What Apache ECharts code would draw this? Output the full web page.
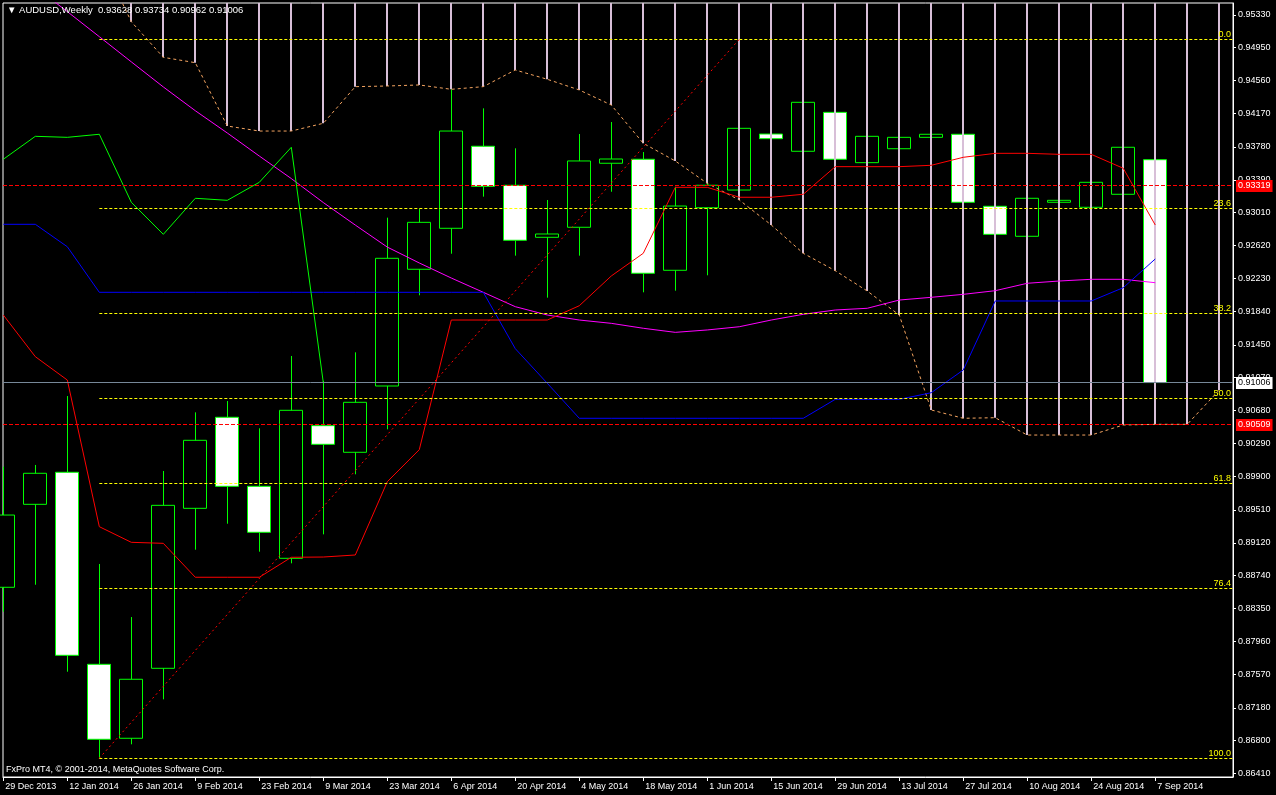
<!DOCTYPE html>
<html><head><meta charset="utf-8">
<script src="https://cdn.jsdelivr.net/npm/echarts@6/dist/echarts.min.js"></script>
<style>html,body{margin:0;padding:0;background:#000;}#c{width:1276px;height:795px;}</style>
</head><body><div id="c"></div>
<script>
// ---- data ----
const symbolName = 'AUDUSD';
const timeframe = 'Weekly';
const weeks = ['29 Dec 2013','5 Jan 2014','12 Jan 2014','19 Jan 2014','26 Jan 2014','2 Feb 2014','9 Feb 2014','16 Feb 2014','23 Feb 2014','2 Mar 2014','9 Mar 2014','16 Mar 2014','23 Mar 2014','30 Mar 2014','6 Apr 2014','13 Apr 2014','20 Apr 2014','27 Apr 2014','4 May 2014','11 May 2014','18 May 2014','25 May 2014','1 Jun 2014','8 Jun 2014','15 Jun 2014','22 Jun 2014','29 Jun 2014','6 Jul 2014','13 Jul 2014','20 Jul 2014','27 Jul 2014','3 Aug 2014','10 Aug 2014','17 Aug 2014','24 Aug 2014','31 Aug 2014','7 Sep 2014'];
const opens  = [0.88598,0.89574,0.89951,0.87692,0.86822,0.87645,0.89527,0.90598,0.89786,0.88939,0.90499,0.90186,0.90966,0.92339,0.92821,0.93786,0.93327,0.92715,0.92833,0.93586,0.93633,0.92327,0.93063,0.93271,0.93930,0.93727,0.94185,0.93593,0.93757,0.93891,0.93927,0.93080,0.92727,0.93127,0.93068,0.93221,0.93628];
const highs  = [0.90017,0.90037,0.90848,0.88872,0.88248,0.89966,0.90656,0.90789,0.90468,0.91319,0.91025,0.91362,0.92946,0.93048,0.94456,0.94232,0.93762,0.93154,0.93930,0.94071,0.93718,0.93310,0.93400,0.94118,0.94154,0.94412,0.94236,0.94001,0.94036,0.94071,0.94036,0.93271,0.93330,0.93271,0.93507,0.93918,0.93734];
const lows   = [0.88311,0.88628,0.87605,0.86593,0.86751,0.87280,0.89040,0.89346,0.89017,0.88880,0.89221,0.89927,0.90456,0.92033,0.92522,0.93193,0.92499,0.92005,0.92499,0.93251,0.92068,0.92087,0.92268,0.93189,0.93271,0.93624,0.93330,0.93389,0.93566,0.93742,0.92977,0.92448,0.92566,0.92977,0.92977,0.93189,0.90962];
const closes = [0.89448,0.89939,0.87798,0.86810,0.87516,0.89562,0.90327,0.89786,0.89245,0.90680,0.90280,0.90774,0.92468,0.92891,0.93965,0.93315,0.92680,0.92754,0.93613,0.93636,0.92292,0.93083,0.93327,0.93997,0.93875,0.94303,0.93633,0.93903,0.93891,0.93927,0.93127,0.92750,0.93174,0.93150,0.93362,0.93774,0.91006];
const tenkan = [0.91801,0.91311,0.91036,0.89311,0.89127,0.89115,0.88716,0.88716,0.88716,0.88951,0.88954,0.88978,0.89840,0.90217,0.91742,0.91742,0.91742,0.91742,0.91910,0.92260,0.92527,0.93303,0.93303,0.93186,0.93186,0.93221,0.93546,0.93546,0.93546,0.93562,0.93656,0.93703,0.93703,0.93691,0.93691,0.93527,0.92860];
const kijun  = [0.92868,0.92868,0.92604,0.92068,0.92068,0.92068,0.92068,0.92068,0.92068,0.92068,0.92068,0.92068,0.92068,0.92068,0.92068,0.92068,0.91405,0.90998,0.90586,0.90586,0.90586,0.90586,0.90586,0.90586,0.90586,0.90586,0.90809,0.90809,0.90809,0.90887,0.91154,0.91966,0.91966,0.91966,0.91966,0.92122,0.92460];
const spanA  = [null,null,null,0.96036,0.95251,0.94832,0.94769,0.94024,0.93965,0.93965,0.94056,0.94487,0.94495,0.94507,0.94456,0.94487,0.94683,0.94574,0.94448,0.94271,0.93821,0.93613,0.93350,0.93154,0.92860,0.92527,0.92322,0.92083,0.91801,0.90684,0.90586,0.90593,0.90389,0.90389,0.90389,0.90507,0.90515,0.90515,0.90919];
const spanB  = [0.9760,0.9760,0.9760,0.9760,0.9760,0.9718,0.9718,0.9718,0.9718,0.9700,0.9700,0.9700,0.9700,0.9700,0.9700,0.9685,0.9685,0.9685,0.9685,0.9685,0.9685,0.9685,0.9685,0.9685,0.9685,0.9685,0.9664,0.9664,0.9664,0.9640,0.9640,0.9640,0.9640,0.9620,0.9620,0.9620,0.9620,0.9620,0.9620];
const movingAvg = [0.95942,0.95659,0.95370,0.95075,0.94779,0.94484,0.94204,0.93942,0.93671,0.93406,0.93124,0.92859,0.92600,0.92413,0.92236,0.92068,0.91899,0.91801,0.91742,0.91703,0.91645,0.91597,0.91625,0.91663,0.91742,0.91809,0.91860,0.91880,0.91977,0.92009,0.92044,0.92087,0.92174,0.92201,0.92221,0.92221,0.92181];
const chikouShift = 26;
const priceTicks = ['0.95330','0.94950','0.94560','0.94170','0.93780','0.93390','0.93010','0.92620','0.92230','0.91840','0.91450','0.91070','0.90680','0.90290','0.89900','0.89510','0.89120','0.88740','0.88350','0.87960','0.87570','0.87180','0.86800','0.86410'];
const fibLow = 0.86587, fibHigh = 0.95044;
const fibLowIdx = 3, fibHighIdx = 23;
const fibLevels = [0, 23.6, 38.2, 50.0, 61.8, 76.4, 100.0];
const redLevels = [0.93319, 0.90509];
const footerText = 'FxPro MT4, \u00A9 2001-2014, MetaQuotes Software Corp.';

// ---- layout constants ----
const xMin = -0.01, xMax = 38.43;
const yMin = 0.863664, yMax = 0.954712;
const FONT = 'Liberation Sans';
const CFONT = '9px "Liberation Sans", sans-serif';

const last = weeks.length - 1;
const bid = closes[last];
const fmt = v => v.toFixed(5);
const titleText = '\u25BC ' + symbolName + ',' + timeframe + '  ' + [opens[last], highs[last], lows[last], closes[last]].map(fmt).join(' ');

const candleData = weeks.map((w, i) => [i, opens[i], closes[i], lows[i], highs[i]]);
const toXY = arr => arr.map((v, i) => v == null ? null : [i, v]).filter(Boolean);
const chikou = closes.map((c, i) => i >= chikouShift ? [i - chikouShift, c] : null).filter(Boolean);
const cloudData = spanA.map((a, i) => a == null ? null : [i, a, spanB[i]]).filter(Boolean);
const tickVals = priceTicks.map(parseFloat);
const dateTickVals = weeks.map((w, i) => i).filter(i => i % 2 === 0);
const fibData = fibLevels.map(p => [fibLowIdx, fibHigh - (fibHigh - fibLow) * p / 100, p]);

// horizontal line drawn through the axes (snapped to the pixel grid for crispness)
function hLineSeries(data, opt) {
  return {
    type: 'custom', data: data, z: 6, silent: true, clip: false,
    renderItem: (params, api) => {
      const cs = params.coordSys;
      const p = api.coord([api.value(0), api.value(1)]);
      const y = Math.floor(p[1]) + 0.5;
      const x1 = Math.max(p[0], cs.x), x2 = cs.x + cs.width;
      const children = [{type: 'line', shape: {x1: x1, y1: y, x2: x2, y2: y},
        style: {stroke: opt.color, lineWidth: 1, lineDash: opt.dash || null}}];
      if (opt.fib) {
        children.push({type: 'text', x: x2 - 2, y: y - 0.5,
          style: {text: api.value(2).toFixed(1), fill: '#ffff00', font: CFONT, align: 'right', verticalAlign: 'bottom'}});
      }
      if (opt.boxBg) {
        children.push({type: 'text', x: x2 + 3, y: y + 0.5,
          style: {text: fmt(api.value(1)), fill: opt.boxText, backgroundColor: opt.boxBg, padding: [2, 2, 1, 2],
                  font: CFONT, align: 'left', verticalAlign: 'middle'}});
      }
      return {type: 'group', children: children};
    }
  };
}

const lineSeries = (data, color, extra) => Object.assign({
  type: 'line', data: data, showSymbol: false, symbol: 'none', z: 4,
  lineStyle: {color: color, width: 1}, clip: true, silent: true
}, extra || {});

const chart = echarts.init(document.getElementById('c'));
chart.setOption({
  animation: false,
  backgroundColor: '#000',
  title: [
    {text: titleText, left: 7, top: 5, padding: 0, textStyle: {color: '#fff', fontSize: 9.5, fontWeight: 'normal', fontFamily: FONT}},
    {text: footerText, left: 6, top: 765, padding: 0, textStyle: {color: '#fff', fontSize: 9, fontWeight: 'normal', fontFamily: FONT}}
  ],
  grid: {left: 3, top: 3, right: 43, bottom: 18, show: true, borderColor: '#fff', borderWidth: 1, containLabel: false, outerBoundsMode: 'none'},
  xAxis: {
    type: 'value', min: xMin, max: xMax,
    axisLine: {show: true, onZero: false, lineStyle: {color: '#fff'}},
    axisTick: {show: true, customValues: dateTickVals, length: 4, lineStyle: {color: '#fff'}},
    axisLabel: {customValues: dateTickVals, formatter: v => weeks[Math.round(v)], color: '#fff', fontSize: 9, fontFamily: FONT, align: 'left', margin: 5, padding: [0, 0, 0, 2]},
    splitLine: {show: false}
  },
  yAxis: {
    type: 'value', position: 'right', min: yMin, max: yMax, scale: true,
    axisLine: {show: true, onZero: false, lineStyle: {color: '#fff'}},
    axisTick: {show: true, customValues: tickVals, length: 3, lineStyle: {color: '#fff'}},
    axisLabel: {customValues: tickVals, formatter: v => fmt(v), color: '#fff', fontSize: 9, fontFamily: FONT, margin: 5},
    splitLine: {show: false}
  },
  series: [
    {
      type: 'candlestick', data: candleData, clip: true, z: 2, barWidth: 23.5,
      dimensions: ['idx', 'open', 'close', 'lowest', 'highest'],
      encode: {x: 0, y: [1, 2, 3, 4]},
      itemStyle: {color: '#000', color0: '#fff', borderColor: '#00ff00', borderColor0: '#00ff00', borderColorDoji: '#00ff00', borderWidth: 1}
    },
    {
      type: 'custom', data: cloudData, clip: true, z: 3, silent: true,
      renderItem: (params, api) => {
        const p1 = api.coord([api.value(0), api.value(1)]);
        const p2 = api.coord([api.value(0), api.value(2)]);
        const x = Math.round(p1[0]);
        return {type: 'line', shape: {x1: x, y1: p1[1], x2: x, y2: p2[1]}, style: {stroke: '#d8bfd8', lineWidth: 2}};
      }
    },
    lineSeries(toXY(spanA), '#f4a460', {lineStyle: {color: '#f4a460', width: 1, type: [3, 3]}}),
    lineSeries(toXY(movingAvg), '#ff00ff'),
    lineSeries(toXY(kijun), '#0000ff'),
    lineSeries(chikou, '#00ff00'),
    lineSeries(toXY(tenkan), '#ff0000'),
    hLineSeries(fibData, {color: '#ffff00', dash: [3, 2], fib: true}),
    hLineSeries(redLevels.map(v => [xMin, v]), {color: '#ff0000', dash: [4, 2], boxBg: '#ff0000', boxText: '#ffffff'}),
    hLineSeries([[xMin, bid]], {color: '#778899', boxBg: '#ffffff', boxText: '#000000'}),
    {
      type: 'line', data: [], z: 6, silent: true,
      markLine: {silent: true, precision: 6, symbol: ['none', 'none'], animation: false,
        data: [[{coord: [fibLowIdx, fibLow], lineStyle: {color: '#ff0000', type: [2, 3], width: 1, opacity: 1}, label: {show: false}},
                {coord: [fibHighIdx, fibHigh]}]]}
    }
  ]
});
</script>
</body></html>
